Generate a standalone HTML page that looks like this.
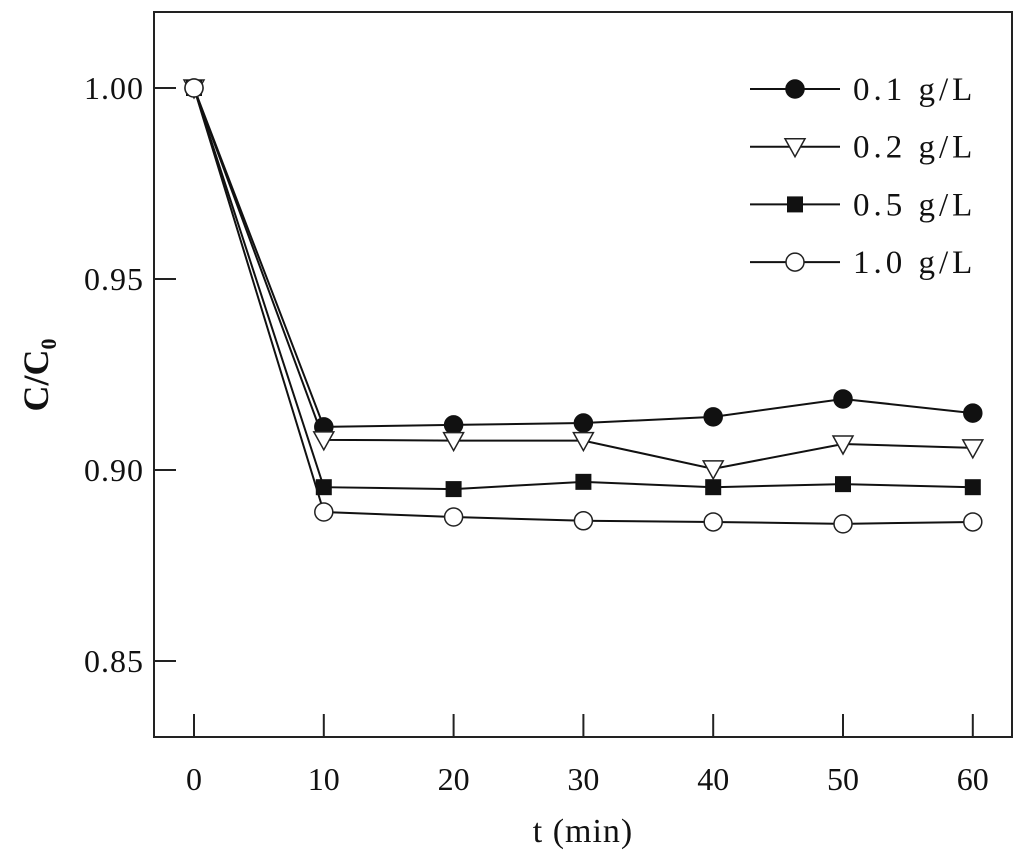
<!DOCTYPE html>
<html><head><meta charset="utf-8"><style>body{margin:0;background:#fff}svg{display:block}</style></head>
<body>
<svg id="chart" width="1024" height="862" xmlns="http://www.w3.org/2000/svg" font-family="Liberation Serif, serif" fill="#111">
</svg>
<script>
const xValues=[0,10,20,30,40,50,60];
const s01=[1.0,0.9113,0.9118,0.9123,0.9139,0.9186,0.9149];
const s02=[1.0,0.9079,0.9077,0.9077,0.9003,0.9068,0.9058];
const s05=[1.0,0.8955,0.8950,0.8969,0.8955,0.8963,0.8955];
const s10=[1.0,0.8890,0.8877,0.8867,0.8864,0.8859,0.8864];
const seriesLabels=["0.1 g/L","0.2 g/L","0.5 g/L","1.0 g/L"];
const xTicks=[0,10,20,30,40,50,60];
const yTicks=[0.85,0.90,0.95,1.00];
const yTickLabels=["0.85","0.90","0.95","1.00"];
const NS="http://www.w3.org/2000/svg";
const svg=document.getElementById('chart');
const X=v=>194+v*12.98;
const Y=v=>88+(1-v)*3820;
function mk(t,a,p){const e=document.createElementNS(NS,t);for(const k in a)e.setAttribute(k,a[k]);(p||svg).appendChild(e);return e;}
const frame=mk('rect',{x:154,y:12,width:858,height:725,fill:'none',stroke:'#222','stroke-width':2});


xTicks.forEach(t=>{
 const l=mk('line',{x1:X(t),x2:X(t),y1:737,y2:714,stroke:'#222','stroke-width':2});
 
 
 const tx=mk('text',{x:X(t),y:790,'font-size':32,'text-anchor':'middle'});tx.textContent=t;
 
 
});
yTicks.forEach((t,i)=>{
 const l=mk('line',{x1:154,x2:176,y1:Y(t),y2:Y(t),stroke:'#222','stroke-width':2});
 
 
 const tx=mk('text',{x:144,y:Y(t)+11,'font-size':32,'text-anchor':'end','letter-spacing':1});tx.textContent=yTickLabels[i];
 
 
});
const xt=mk('text',{x:583,y:842,'font-size':34,'text-anchor':'middle','letter-spacing':1});xt.textContent='t (min)';


const yt=mk('text',{transform:'translate(48,375) rotate(-90)','font-size':36,'text-anchor':'middle','font-weight':'bold'});
yt.innerHTML='C/C<tspan font-size="22" dy="8">0</tspan>';


function marker(type,x,y,name){
 let e;
 if(type==='fc')e=mk('circle',{cx:x,cy:y,r:9,fill:'#111',stroke:'#111','stroke-width':1.5});
 if(type==='oc')e=mk('circle',{cx:x,cy:y,r:9,fill:'#fff',stroke:'#222','stroke-width':1.5});
 if(type==='sq')e=mk('rect',{x:x-8,y:y-8,width:16,height:16,fill:'#111'});
 if(type==='tri')e=mk('polygon',{points:`${x-10},${y-8} ${x+10},${y-8} ${x},${y+10}`,fill:'#fff',stroke:'#222','stroke-width':1.5});
 
 
}
const all=[s01,s02,s05,s10],types=['fc','tri','sq','oc'],names=['series-0-1','series-0-2','series-0-5','series-1-0'];
all.forEach((s,i)=>{
 const p=mk('polyline',{points:s.map((v,j)=>X(xValues[j])+','+Y(v)).join(' '),fill:'none',stroke:'#111','stroke-width':2});
 
 
});
all.forEach((s,i)=>s.forEach((v,j)=>marker(types[i],X(xValues[j]),Y(v),names[i]+'-point')));
seriesLabels.forEach((lab,i)=>{
 const y=89+i*57.7;
 const l=mk('line',{x1:750,x2:840,y1:y,y2:y,stroke:'#111','stroke-width':2});
 
 
 marker(types[i],795,y,'legend-marker');
 const tx=mk('text',{x:853,y:y+11,'font-size':33,'letter-spacing':4});tx.textContent=lab;
 
 
});
</script>
</body></html>
